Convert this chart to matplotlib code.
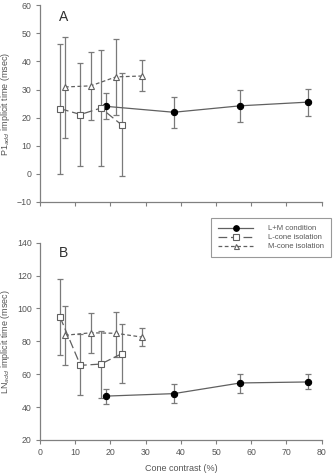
import matplotlib
matplotlib.use('Agg')
import matplotlib.pyplot as plt

# contrast values (%)
lm_x = [18.8, 38.0, 56.9, 76.0]
l_x = [5.7, 11.5, 17.3, 23.2]
m_x = [7.1, 14.4, 21.6, 28.9]

# panel A: P1add implicit time (msec)
a_lm_y = [24.0, 21.9, 24.2, 25.5]
a_lm_lo = [19.4, 16.2, 18.4, 20.6]
a_lm_hi = [28.6, 27.5, 29.7, 30.2]
a_l_y = [23.2, 21.1, 23.4, 17.4]
a_l_lo = [0.1, 2.7, 2.8, -0.7]
a_l_hi = [46.3, 39.6, 44.2, 35.7]
a_m_y = [30.9, 31.3, 34.5, 34.8]
a_m_lo = [12.9, 19.2, 21.1, 29.4]
a_m_hi = [48.7, 43.4, 47.8, 40.5]

# panel B: LNadd implicit time (msec)
b_lm_y = [46.7, 48.2, 54.7, 55.3]
b_lm_lo = [42.1, 42.7, 48.8, 50.8]
b_lm_hi = [51.0, 53.8, 60.1, 60.3]
b_l_y = [94.8, 65.4, 66.2, 72.5]
b_l_lo = [71.6, 47.6, 45.5, 54.5]
b_l_hi = [117.7, 84.2, 86.6, 90.6]
b_m_y = [83.7, 85.2, 84.9, 82.6]
b_m_lo = [65.4, 72.7, 70.5, 77.4]
b_m_hi = [101.3, 97.0, 97.7, 87.9]

series_labels = ['L+M condition', 'L-cone isolation', 'M-cone isolation']

plt.rcParams['font.family'] = ['Liberation Sans', 'DejaVu Sans']
fig = plt.figure(figsize=(3.33, 4.75), dpi=100)
ax1 = fig.add_axes([0.120, 0.575, 0.846, 0.414])
ax2 = fig.add_axes([0.120, 0.0737, 0.846, 0.4153])

spine_c = '#808080'
line_c = '#606060'
err_c = '#7a7a7a'
text_c = '#555555'


def draw(ax, lm, l, m):
    hs = []
    for xs, (y, lo, hi), kw in [
        (lm_x, lm, dict(marker='o', ms=4.5, mfc='black', mec='black', ls='-')),
        (l_x, l, dict(marker='s', ms=4.5, mfc='white', mec=line_c, ls=(0, (7, 3)))),
        (m_x, m, dict(marker='^', ms=4, mfc='white', mec=line_c, ls=(0, (3, 2)))),
    ]:
        yerr = [[yy - a for yy, a in zip(y, lo)], [b - yy for yy, b in zip(y, hi)]]
        ax.errorbar(xs, y, yerr=yerr, fmt='none', ecolor=err_c, elinewidth=0.9,
                    capsize=2.5, capthick=0.9, zorder=2)
        h, = ax.plot(xs, y, color=line_c, lw=0.9, mew=0.8, zorder=3, **kw)
        hs.append(h)
    ax.set_xlim(0, 80)
    ax.set_xticks(range(0, 81, 10))
    for s in ['top', 'right']:
        ax.spines[s].set_visible(False)
    for s in ['left', 'bottom']:
        ax.spines[s].set_color(spine_c)
        ax.spines[s].set_linewidth(0.9)
    ax.tick_params(colors=spine_c, labelcolor=text_c, labelsize=6.3, length=3,
                   width=0.8, pad=3)
    return hs


hs = draw(ax1, (a_lm_y, a_lm_lo, a_lm_hi), (a_l_y, a_l_lo, a_l_hi), (a_m_y, a_m_lo, a_m_hi))
ax1.set_ylim(-10, 60)
ax1.set_yticks(range(-10, 61, 10))
ax1.tick_params(axis='x', labelbottom=False)
ax1.set_ylabel('P1$_{add}$ implicit time (msec)', color=text_c, fontsize=6.5)
ax1.yaxis.set_label_coords(-0.1, 0.5)
ax1.text(0.085, 0.94, 'A', transform=ax1.transAxes, fontsize=10, color='#303030',
         ha='center', va='center')

draw(ax2, (b_lm_y, b_lm_lo, b_lm_hi), (b_l_y, b_l_lo, b_l_hi), (b_m_y, b_m_lo, b_m_hi))
ax2.set_ylim(20, 140)
ax2.set_yticks(range(20, 141, 20))
ax2.set_xlabel('Cone contrast (%)', color=text_c, fontsize=6.5, labelpad=5)
ax2.set_ylabel('LN$_{add}$ implicit time (msec)', color=text_c, fontsize=6.5)
ax2.yaxis.set_label_coords(-0.1, 0.5)
ax2.text(0.085, 0.948, 'B', transform=ax2.transAxes, fontsize=10, color='#303030',
         ha='center', va='center')

leg = fig.legend(hs, series_labels, loc='upper left', bbox_to_anchor=(0.634, 0.541),
                 fontsize=5.5, frameon=True, fancybox=False, handlelength=4.6,
                 borderpad=0.9, labelspacing=0.22, handletextpad=1.9, labelcolor=text_c,
                 borderaxespad=0, markerscale=0.9)
leg.get_frame().set_edgecolor(spine_c)
leg.get_frame().set_linewidth(0.8)

fig.savefig('out.png', dpi=100)
